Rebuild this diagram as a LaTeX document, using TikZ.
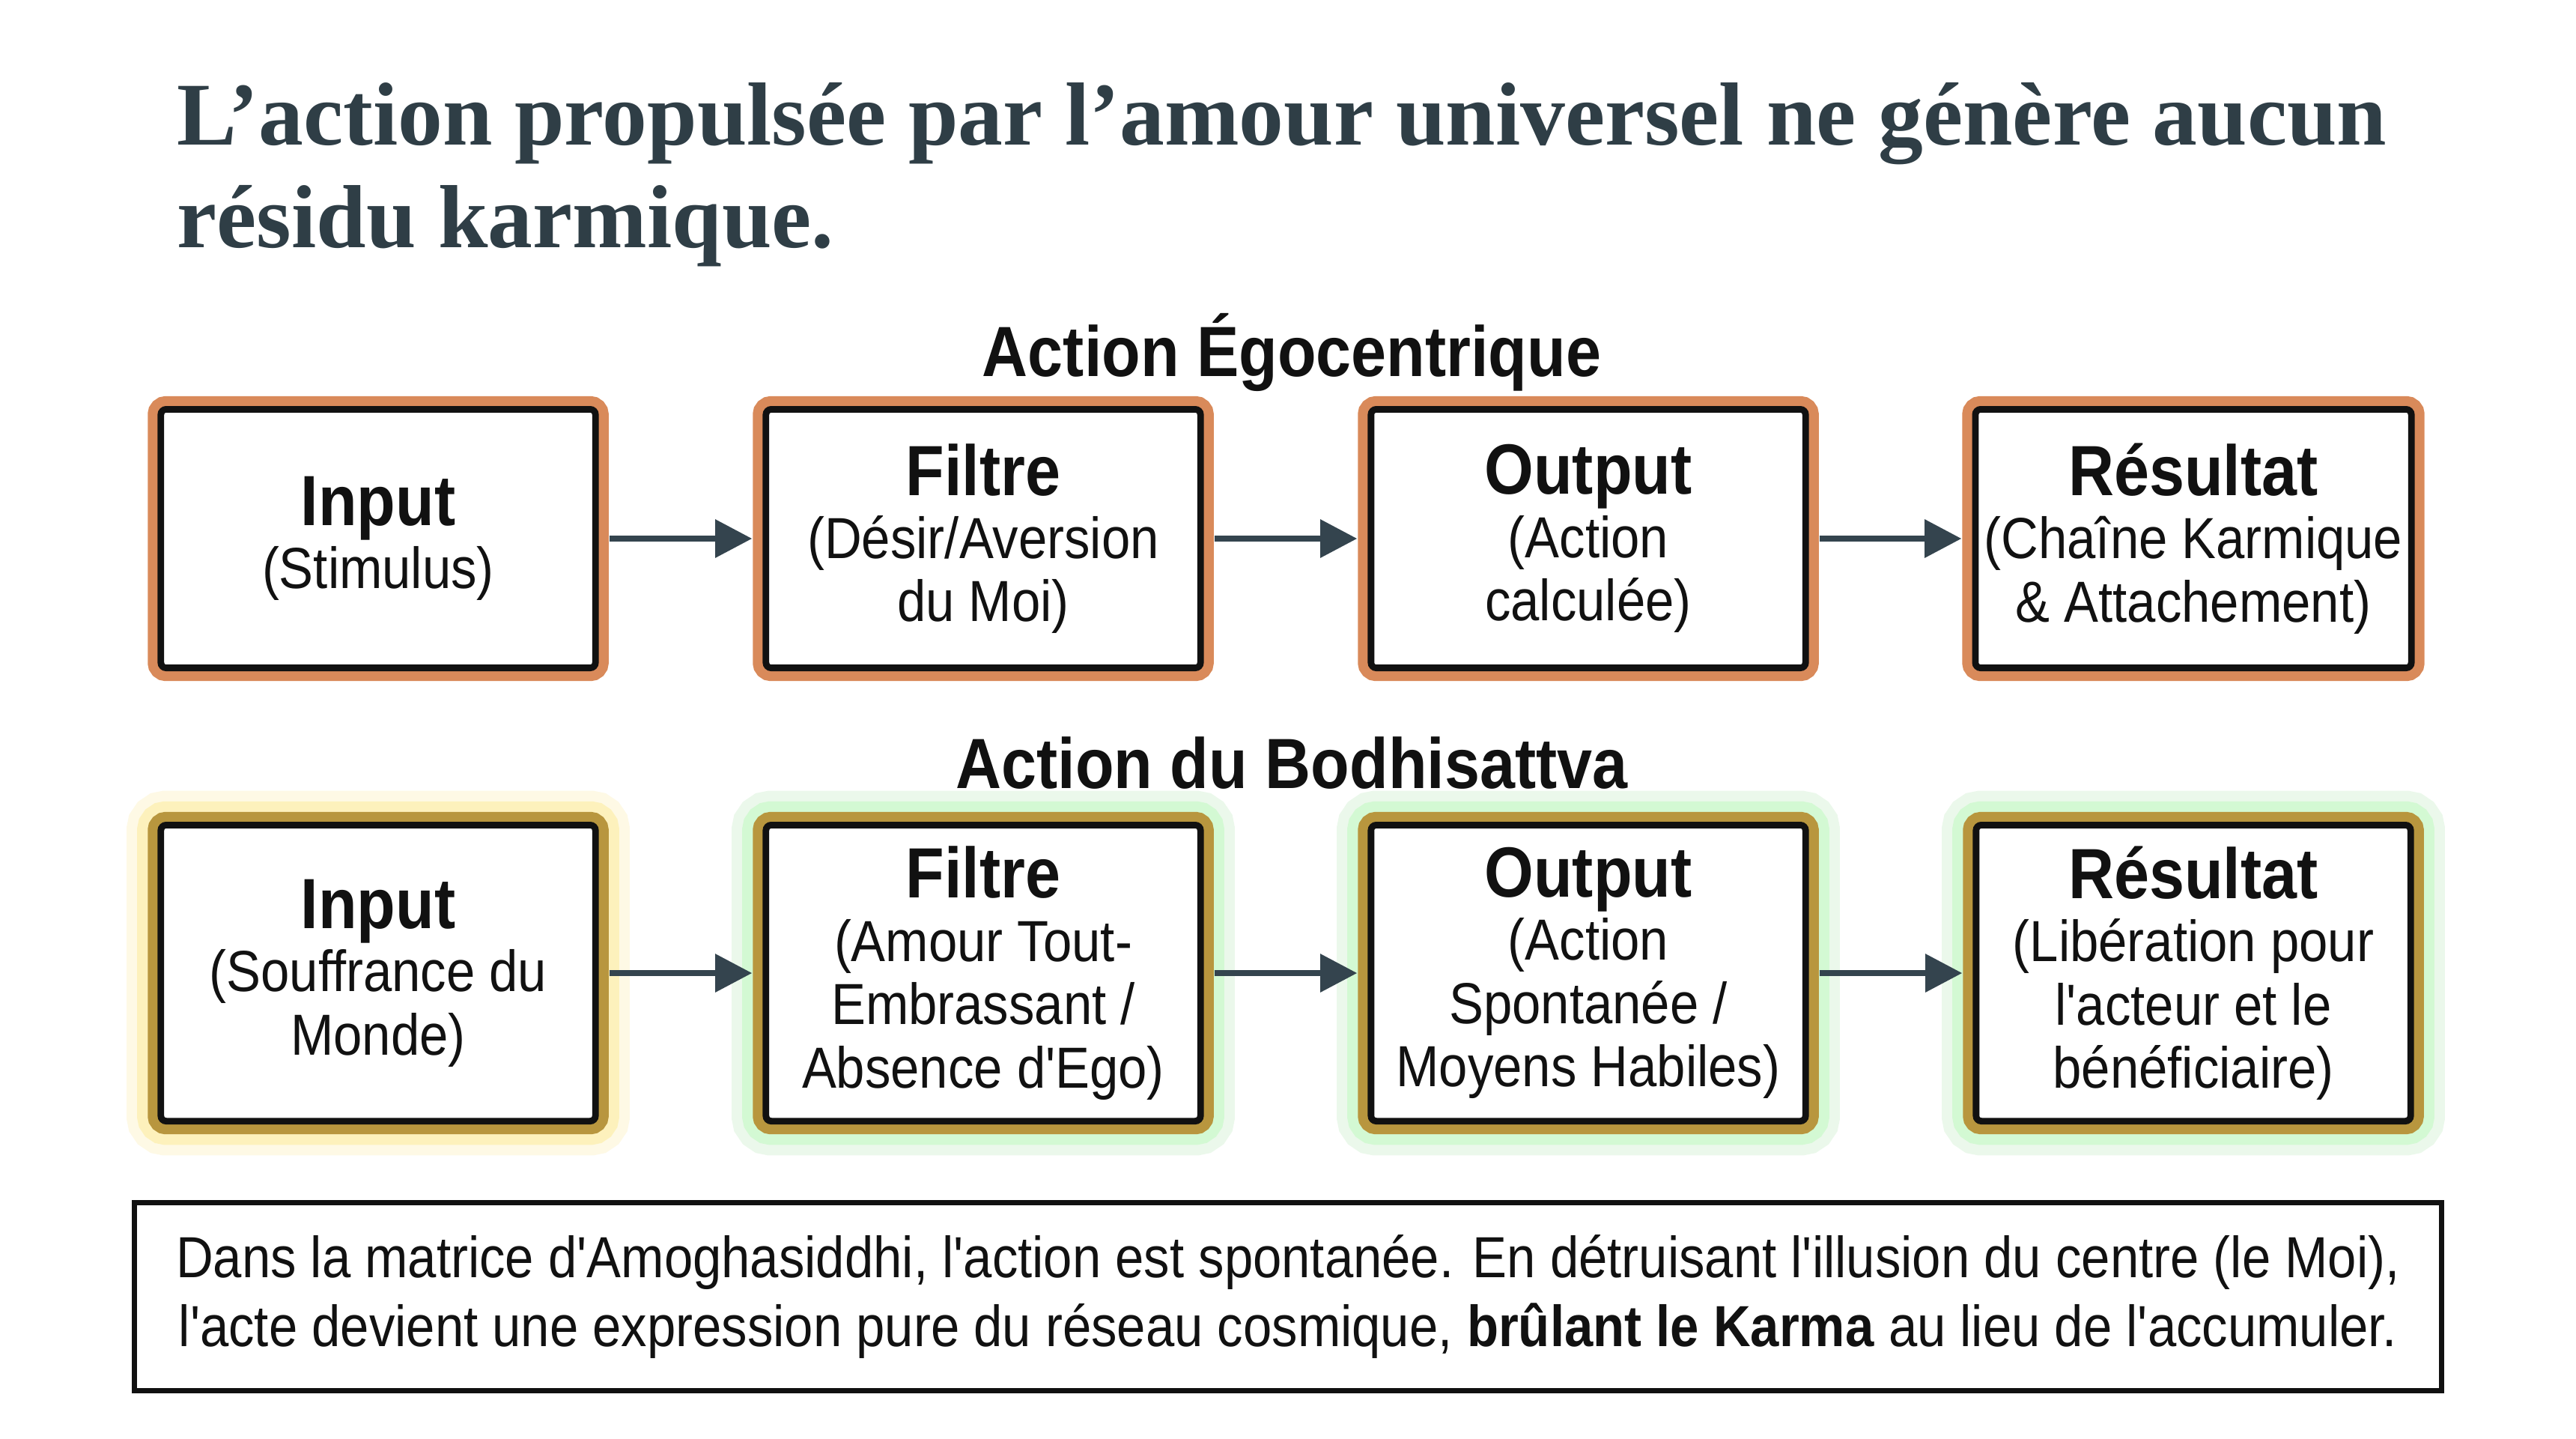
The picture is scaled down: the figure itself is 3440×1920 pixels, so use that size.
\documentclass[tikz,border=0pt]{standalone}
\usepackage{fontspec}
\usetikzlibrary{arrows.meta}
\setmainfont{Liberation Serif}
\newfontfamily\cond{Liberation Sans}[FakeStretch=0.89]
\definecolor{titlec}{HTML}{2F3E46}
\definecolor{orangeb}{HTML}{D98A5A}
\definecolor{goldb}{HTML}{B8963E}
\definecolor{arrowc}{HTML}{34444E}
\definecolor{txt}{HTML}{111111}
\tikzset{
  bx/.style={draw=txt, line width=2.5pt, fill=white, rounded corners=2pt,
    minimum width=5.8cm, align=center, text=txt, font=\cond\fontsize{22}{24}\selectfont},
  egobox/.style={bx, minimum height=3.45cm, preaction={draw=orangeb, line width=10pt, rounded corners=7pt}},
  goldbox/.style={bx, minimum height=3.95cm,
    preaction={draw=yellow!60!orange, draw opacity=0.10, line width=26pt, rounded corners=12pt},
    preaction={draw=yellow!70!orange, draw opacity=0.18, line width=18pt, rounded corners=9pt},
    preaction={draw=goldb, line width=10pt, rounded corners=7pt}},
  greenbox/.style={bx, minimum height=3.95cm,
    preaction={draw=green!70!black, draw opacity=0.08, line width=26pt, rounded corners=12pt},
    preaction={draw=green!60, draw opacity=0.18, line width=18pt, rounded corners=9pt},
    preaction={draw=goldb, line width=10pt, rounded corners=7pt}},
  arr/.style={draw=arrowc, line width=2.5pt, -{Triangle[length=14pt,width=14pt]}, shorten <=4pt, shorten >=4pt},
  head/.style={font=\cond\bfseries\fontsize{27}{30}\selectfont, text=txt},
}
\newcommand{\bt}[1]{{\bfseries\fontsize{27}{30}\selectfont #1}}
\begin{document}
\begin{tikzpicture}[x=0.01cm,y=-0.01cm]
\useasboundingbox[fill=white] (0,0) rectangle (3440,1920);
\node[anchor=north west, inner sep=0pt, text=titlec, align=left, font=\bfseries\fontsize{34}{39}\selectfont] (title) at (236,110)
  {L’action propulsée par l’amour universel ne génère aucun\\résidu karmique.};
\node[head] (h1) at (1725,470) {Action Égocentrique};
\node[head] (h2) at (1725,1019) {Action du Bodhisattva};
\node[egobox] (a1) at (505,719) {\bt{Input}\\(Stimulus)};
\node[egobox] (a2) at (1313,719) {\bt{Filtre}\\(Désir/Aversion\\du Moi)};
\node[egobox] (a3) at (2121,719) {\bt{Output}\\(Action\\calculée)};
\node[egobox] (a4) at (2929,719) {\bt{Résultat}\\(Chaîne Karmique\\\& Attachement)};
\node[goldbox] (b1) at (505,1299) {\bt{Input}\\(Souffrance du\\Monde)};
\node[greenbox] (b2) at (1313,1299) {\bt{Filtre}\\(Amour Tout-\\Embrassant /\\Absence d'Ego)};
\node[greenbox] (b3) at (2121,1299) {\bt{Output}\\(Action\\Spontanée /\\Moyens Habiles)};
\node[greenbox] (b4) at (2929,1299) {\bt{Résultat}\\(Libération pour\\l'acteur et le\\bénéficiaire)};
\foreach \p/\q in {a1/a2,a2/a3,a3/a4,b1/b2,b2/b3,b3/b4} \draw[arr] (\p) -- (\q);
\node[draw=txt, line width=2pt, minimum width=30.8cm, minimum height=2.5cm, align=center, text=txt,
  font=\cond\fontsize{22}{26}\selectfont] (note) at (1720,1731)
  {Dans la matrice d'Amoghasiddhi, l'action est spontanée. En détruisant l'illusion du centre (le Moi),\\
   l'acte devient une expression pure du réseau cosmique, \textbf{brûlant le Karma} au lieu de l'accumuler.};
\end{tikzpicture}
\end{document}
